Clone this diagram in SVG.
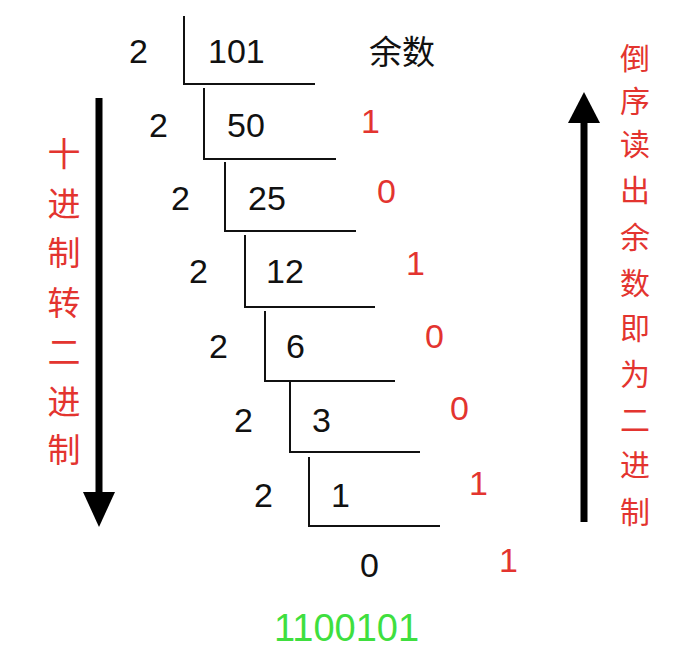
<svg xmlns="http://www.w3.org/2000/svg" width="687" height="660" viewBox="0 0 687 660">
<style>
.num{font-family:"Liberation Sans",Arial,sans-serif;font-size:34px;fill:#111}
.rem{font-family:"Liberation Sans",Arial,sans-serif;font-size:34px;fill:#e3342f}
.res{font-family:"Liberation Sans",Arial,sans-serif;font-size:38px;fill:#3fdf3f}
.cjk{font-family:"Noto Sans CJK SC","Liberation Sans",sans-serif;fill:#111}
.vl{font-family:"Noto Sans CJK SC",sans-serif;fill:#e3342f;text-anchor:middle}
.ln{stroke:#111;stroke-width:2;fill:none}
</style>
<rect width="687" height="660" fill="#fff"/>
<g id="connectors">
<path class="ln" d="M184 16V84H315"/>
<path class="ln" d="M204 88V159H336"/>
<path class="ln" d="M225 162V231H356"/>
<path class="ln" d="M245 235V307H375"/>
<path class="ln" d="M265 311V381H395"/>
<path class="ln" d="M290 382V452H420"/>
<path class="ln" d="M309 457V526H440"/>
<g id="arrow-down">
<rect x="95.5" y="98" width="7" height="396" fill="#000"/>
<polygon points="83,492 115,492 99,527" fill="#000"/>
</g>
<g id="arrow-up">
<rect x="580.5" y="121" width="7" height="401" fill="#000"/>
<polygon points="568,123 600,123 584,92" fill="#000"/>
</g>
</g>
<g id="row1"><text class="num" x="129" y="63">2</text><text class="num" x="208" y="63">101</text><text class="cjk" x="369" y="64" font-size="33">余数</text></g>
<g id="row2"><text class="num" x="149" y="137">2</text><text class="num" x="227" y="137">50</text><text class="rem" x="361" y="133">1</text></g>
<g id="row3"><text class="num" x="171" y="210">2</text><text class="num" x="248" y="210">25</text><text class="rem" x="377" y="203">0</text></g>
<g id="row4"><text class="num" x="189" y="283">2</text><text class="num" x="266" y="283">12</text><text class="rem" x="406" y="275">1</text></g>
<g id="row5"><text class="num" x="209" y="358">2</text><text class="num" x="286" y="358">6</text><text class="rem" x="425" y="348">0</text></g>
<g id="row6"><text class="num" x="234" y="432">2</text><text class="num" x="312" y="432">3</text><text class="rem" x="450" y="420">0</text></g>
<g id="row7"><text class="num" x="254" y="507">2</text><text class="num" x="331" y="507">1</text><text class="rem" x="469" y="495">1</text></g>
<g id="row8"><text class="num" x="360" y="577">0</text><text class="rem" x="499" y="572">1</text></g>
<g id="result"><text class="res" x="274" y="641">1100101</text></g>
<g id="label-left">
<text class="vl" font-size="33"><tspan x="64" y="166">十</tspan><tspan x="64" y="216">进</tspan><tspan x="64" y="265">制</tspan><tspan x="64" y="315">转</tspan><tspan x="64" y="364">二</tspan><tspan x="64" y="414">进</tspan><tspan x="64" y="462">制</tspan></text>
</g>
<g id="label-right">
<text class="vl" font-size="30"><tspan x="635" y="69">倒</tspan><tspan x="635" y="112">序</tspan><tspan x="635" y="155">读</tspan><tspan x="635" y="201">出</tspan><tspan x="635" y="248">余</tspan><tspan x="635" y="294">数</tspan><tspan x="635" y="339">即</tspan><tspan x="635" y="385">为</tspan><tspan x="635" y="431">二</tspan><tspan x="635" y="476">进</tspan><tspan x="635" y="523">制</tspan></text>
</g>
</svg>
